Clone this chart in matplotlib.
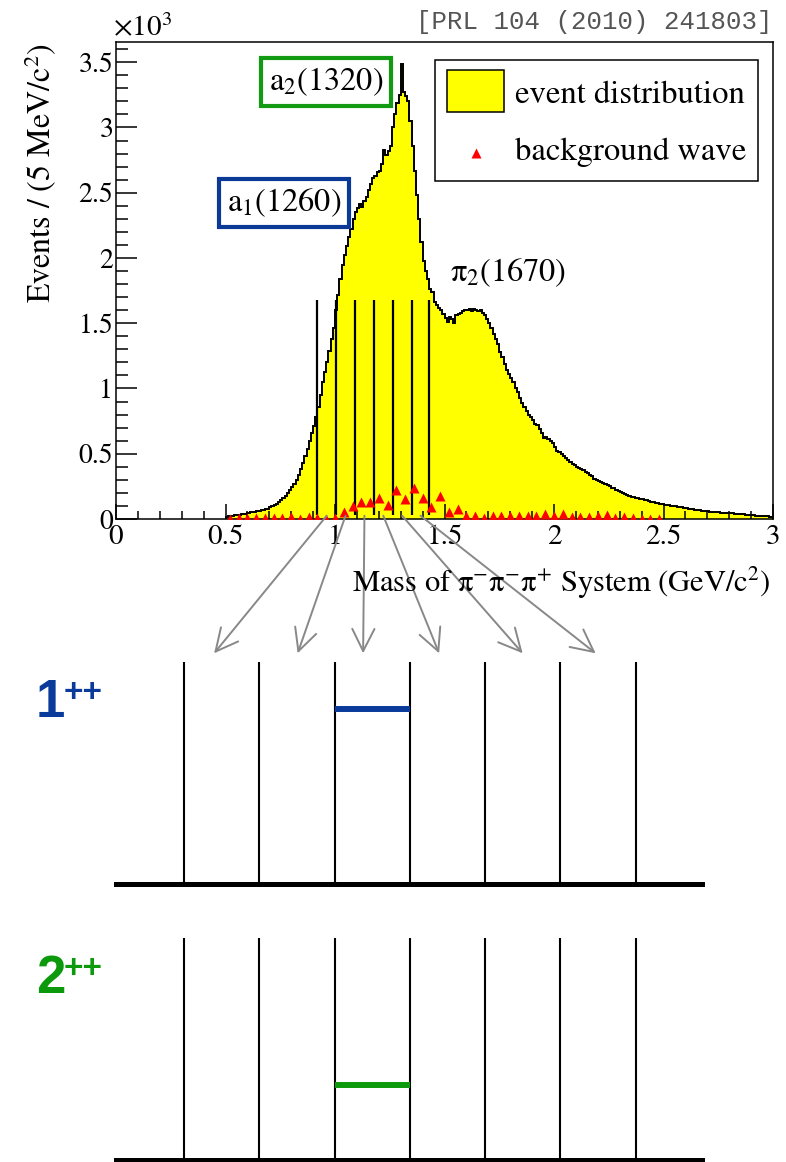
import numpy as np
import matplotlib
matplotlib.use("Agg")
import matplotlib.pyplot as plt
from matplotlib.patches import Rectangle, ConnectionPatch
from matplotlib.lines import Line2D
from matplotlib.ticker import MultipleLocator

plt.rcParams['font.family'] = ['STIXGeneral', 'DejaVu Sans']
plt.rcParams['mathtext.fontset'] = 'stix'

# ---------------- data ----------------
hist_start = 0.50      # GeV/c^2
hist_binwidth = 0.01   # GeV/c^2 (drawing resolution)
# events (x10^3) per 5 MeV/c^2
event_counts = [
    0.015, 0.020, 0.022, 0.025, 0.028, 0.030, 0.034, 0.038, 0.040, 0.042,
    0.046, 0.050, 0.054, 0.056, 0.060, 0.064, 0.070, 0.072, 0.075, 0.080,
    0.090, 0.100, 0.108, 0.118, 0.130, 0.145, 0.160, 0.175, 0.200, 0.220,
    0.245, 0.270, 0.300, 0.340, 0.380, 0.430, 0.480, 0.540, 0.600, 0.660,
    0.710, 0.780, 0.860, 0.950, 1.050, 1.130, 1.200, 1.290, 1.380, 1.460,
    1.600, 1.720, 1.840, 1.950, 2.020, 2.090, 2.160, 2.220, 2.300, 2.350,
    2.380, 2.410, 2.390, 2.440, 2.470, 2.520, 2.570, 2.610, 2.630, 2.660,
    2.670, 2.720, 2.830, 2.790, 2.820, 2.860, 3.000, 3.100, 3.190, 3.250,
    3.490, 3.270, 3.240, 3.200, 3.050, 2.860, 2.670, 2.480, 2.300, 2.120,
    1.980, 1.900, 1.840, 1.760, 1.740, 1.660, 1.640, 1.620, 1.600, 1.570,
    1.540, 1.510, 1.550, 1.530, 1.500, 1.560, 1.570, 1.580, 1.590, 1.600,
    1.600, 1.610, 1.590, 1.610, 1.600, 1.590, 1.600, 1.580, 1.560, 1.530,
    1.500, 1.460, 1.420, 1.380, 1.340, 1.280, 1.240, 1.190, 1.140, 1.110,
    1.080, 1.050, 1.000, 0.970, 0.930, 0.890, 0.860, 0.830, 0.800, 0.780,
    0.760, 0.730, 0.720, 0.690, 0.660, 0.620, 0.630, 0.610, 0.600, 0.580,
    0.550, 0.520, 0.510, 0.500, 0.480, 0.465, 0.450, 0.440, 0.420, 0.410,
    0.400, 0.390, 0.380, 0.375, 0.360, 0.350, 0.340, 0.330, 0.310, 0.300,
    0.290, 0.280, 0.275, 0.265, 0.260, 0.250, 0.240, 0.235, 0.225, 0.215,
    0.205, 0.200, 0.190, 0.185, 0.178, 0.170, 0.165, 0.160, 0.158, 0.155,
    0.152, 0.148, 0.143, 0.138, 0.132, 0.128, 0.124, 0.120, 0.116, 0.112,
    0.108, 0.106, 0.104, 0.101, 0.099, 0.097, 0.094, 0.092, 0.090, 0.087,
    0.082, 0.078, 0.075, 0.073, 0.071, 0.069, 0.067, 0.065, 0.063, 0.061,
    0.059, 0.056, 0.054, 0.052, 0.051, 0.050, 0.049, 0.048, 0.047, 0.046,
    0.045, 0.044, 0.042, 0.040, 0.038, 0.036, 0.035, 0.033, 0.032, 0.031,
    0.029, 0.027, 0.025, 0.024, 0.023, 0.022, 0.021, 0.020, 0.019, 0.018,
]

bkg_mass = np.round(np.arange(0.52, 2.49, 0.04), 2)
bkg_values = [
    0.000, 0.010, 0.010, 0.010, 0.005, 0.010, 0.010, 0.015, 0.000, 0.015,
    0.005, 0.000, 0.010, 0.050, 0.100, 0.130, 0.130, 0.160, 0.110, 0.220,
    0.150, 0.240, 0.160, 0.090, 0.180, 0.055, 0.080, 0.020, 0.020, 0.010,
    0.020, 0.020, 0.020, 0.025, 0.025, 0.025, 0.035, 0.020, 0.040, 0.015,
    0.015, 0.015, 0.020, 0.030, 0.010, 0.015, 0.005, 0.000, 0.000, 0.000,
]

# mass bins used for the partial-wave fit (GeV/c^2)
mass_bin_edges = [0.919, 1.005, 1.091, 1.178, 1.263, 1.350, 1.431]
line_height = 1.68

# schematic wave intensity in each of the 6 mass bins (NaN = not shown)
wave_1pp = [np.nan, np.nan, 0.79, np.nan, np.nan, np.nan]
wave_2pp = [np.nan, np.nan, 0.34, np.nan, np.nan, np.nan]
arrow_targets = [0.40, 1.51, 2.38, 3.39, 4.50, 5.47]

legend_labels = ["event distribution", "background wave"]

# ---------------- figure ----------------
W, H = 786, 1162
fig = plt.figure(figsize=(W / 100, H / 100), dpi=100)


def fx(x):
    return x / W


def fy(y):
    return 1 - y / H


YELLOW = '#ffff00'
RED = '#ff0000'

# top histogram
ax = fig.add_axes([fx(116), fy(519), (773 - 116) / W, (519 - 42) / H])
edges = hist_start + hist_binwidth * np.arange(len(event_counts) + 1)
ax.stairs(event_counts, edges, fill=True, color=YELLOW, zorder=1)
ax.stairs(event_counts, edges, color='black', lw=1.4, zorder=2)
ax.vlines(mass_bin_edges, 0.03, line_height, color='black', lw=1.6, zorder=3)
ax.plot(bkg_mass, bkg_values, ls='none', marker='^', ms=6.5, color=RED,
        mec='none', zorder=4)

ax.set_xlim(0, 3)
ax.set_ylim(0, 3.655)
ax.xaxis.set_major_locator(MultipleLocator(0.5))
ax.xaxis.set_minor_locator(MultipleLocator(0.1))
ax.yaxis.set_major_locator(MultipleLocator(0.5))
ax.yaxis.set_minor_locator(MultipleLocator(0.1))
ax.xaxis.set_major_formatter(plt.FuncFormatter(lambda v, p: f"{v:g}"))
ax.yaxis.set_major_formatter(plt.FuncFormatter(lambda v, p: f"{v:g}"))
ax.tick_params(axis='both', which='both', direction='in', top=False, right=False,
               width=1.1, colors='black')
ax.tick_params(axis='x', which='major', length=10.5, labelsize=21, pad=4)
ax.tick_params(axis='x', which='minor', length=5.5)
ax.tick_params(axis='y', which='major', length=15, labelsize=20, pad=2)
ax.tick_params(axis='y', which='minor', length=8.5)
for s in ax.spines.values():
    s.set_linewidth(1.1)

fig.text(fx(113), fy(36), r"$\times$10$^{3}$", fontsize=21, ha='left', va='baseline')
fig.text(fx(41), fy(43), r"Events / (5 MeV/c$^{2}$)", fontsize=23, rotation=90,
         ha='center', va='top')
fig.text(fx(771), fy(592), r"Mass of π$^{-}$π$^{-}$π$^{+}$ System (GeV/c$^{2}$)",
         fontsize=22, ha='right', va='baseline')

# annotations
ax.text(0.959, 3.35, r"a$_{2}$(1320)", fontsize=23.3, ha='center', va='center',
        bbox=dict(boxstyle='square,pad=0.24', fc='white', ec='#129a12', lw=3))
ax.text(0.767, 2.42, r"a$_{1}$(1260)", fontsize=23.3, ha='center', va='center',
        bbox=dict(boxstyle='square,pad=0.24', fc='white', ec='#0a3a96', lw=3))
ax.text(1.525, 1.82, r"π$_{2}$(1670)", fontsize=23.3, ha='left', va='baseline')

# legend (drawn by hand to follow the ROOT layout)
fig.add_artist(Rectangle((fx(435), fy(181)), (758 - 435) / W, (181 - 60) / H,
                         transform=fig.transFigure, fc='white', ec='black',
                         lw=1.1, zorder=5))
fig.add_artist(Rectangle((fx(447), fy(112)), (504 - 447) / W, (112 - 70) / H,
                         transform=fig.transFigure, fc=YELLOW, ec='black',
                         lw=1.1, zorder=6))
fig.add_artist(Line2D([fx(476)], [fy(153)], transform=fig.transFigure, ls='none',
                      marker='^', ms=6.5, color=RED, mec='none', zorder=6))
fig.text(fx(515), fy(103), legend_labels[0], fontsize=23.5, ha='left',
         va='baseline', zorder=6)
fig.text(fx(515), fy(160), legend_labels[1], fontsize=23.5, ha='left',
         va='baseline', zorder=6)

fig.text(fx(773), fy(29), "[PRL 104 (2010) 241803]", family='Liberation Mono',
         fontsize=18.5, color='#555555', ha='right', va='baseline')

# bottom schematic panels
panels = []
for bottom_px, wave, color, label in [(883.7, wave_1pp, '#0a3a9a', '1'),
                                      (1160.0, wave_2pp, '#0c990c', '2')]:
    pax = fig.add_axes([fx(116), fy(bottom_px), (702.5 - 116) / W, 243.7 / H])
    pax.set_xlim(-0.904, 6.89)
    pax.set_ylim(0, 1.1)
    pax.vlines(np.arange(len(wave) + 1), 0, 1.0, color='black', lw=1.5)
    for i, v in enumerate(wave):
        if np.isfinite(v):
            pax.hlines(v, i, i + 1, color=color, lw=4.3)
    for k in ['top', 'right', 'left']:
        pax.spines[k].set_visible(False)
    pax.spines['bottom'].set_linewidth(3.6)
    pax.set_xticks([])
    pax.set_yticks([])
    pax.patch.set_alpha(0)
    top_line_px = bottom_px - 221.7
    fig.text(fx(36), fy(top_line_px + 55), label, family='Liberation Sans',
             fontweight='bold', fontsize=38, color=color, ha='left', va='baseline')
    fig.text(fx(64), fy(top_line_px + 40), "++", family='Liberation Sans',
             fontweight='bold', fontsize=24, color=color, ha='left', va='baseline')
    panels.append(pax)

# arrows from mass bins to the schematic bins
centers = [(a + b) / 2 for a, b in zip(mass_bin_edges[:-1], mass_bin_edges[1:])]
for c, t in zip(centers, arrow_targets):
    con = ConnectionPatch(xyA=(c, 0.025), coordsA=ax.transData,
                          xyB=(t, 1.04), coordsB=panels[0].transData,
                          arrowstyle='->,head_length=0.8,head_width=0.4',
                          mutation_scale=20, color='#888888', lw=1.4)
    fig.add_artist(con)

fig.savefig("out.png", dpi=100)
